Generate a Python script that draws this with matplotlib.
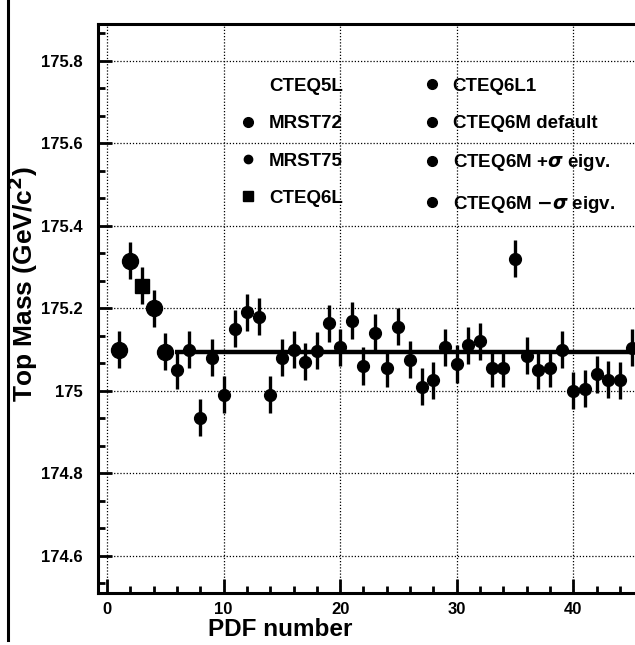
import matplotlib
matplotlib.use("Agg")
import matplotlib.pyplot as plt
from matplotlib.lines import Line2D
from matplotlib.ticker import MultipleLocator, AutoMinorLocator

plt.rcParams['font.family'] = ['Liberation Sans', 'DejaVu Sans']
plt.rcParams['font.weight'] = 'bold'

# PDF sets 1..45 and fitted top mass (GeV/c^2)
pdf_number = list(range(1, 46))
top_mass = [175.10, 175.315, 175.255, 175.20, 175.095, 175.05, 175.10, 174.935, 175.08, 174.99,
            175.15, 175.19, 175.18, 174.99, 175.08, 175.10, 175.07, 175.097, 175.164, 175.105,
            175.17, 175.06, 175.14, 175.055, 175.155, 175.075, 175.01, 175.025, 175.105, 175.065,
            175.11, 175.12, 175.055, 175.055, 175.32, 175.085, 175.05, 175.055, 175.10, 175.00,
            175.005, 175.04, 175.027, 175.025, 175.104]
mass_err = [0.045] * 45

big_points = [1, 2, 4, 5]      # CTEQ5L, MRST72, MRST75, CTEQ6M default
square_points = [3]            # CTEQ6L
default_idx = 4                # CTEQ6M default value -> reference line

legend_labels = ['CTEQ5L', 'MRST72', 'MRST75', 'CTEQ6L',
                 'CTEQ6L1', 'CTEQ6M default', r'CTEQ6M +$\sigma$ eigv.', r'CTEQ6M $-\sigma$ eigv.']

fig = plt.figure(figsize=(6.35, 6.45), dpi=100)
ax = fig.add_axes([0.154, 0.081, 0.846, 0.882])

# page edge line from the scan
fig.add_artist(Line2D([0.012, 0.012], [0.008, 1.0], color='black', lw=2.2))

for n, m, e in zip(pdf_number, top_mass, mass_err):
    if n in square_points:
        mk, ms = 's', 10.5
    elif n in big_points:
        mk, ms = 'o', 11.5
    else:
        mk, ms = 'o', 8.5
    ax.errorbar(n, m, yerr=e, fmt=mk, color='black', ms=ms, elinewidth=2.4, capsize=0, zorder=3)

ax.hlines(top_mass[default_idx], 5.8, 46, color='black', lw=3.2, zorder=2)

ax.set_xlim(-0.8, 45.3)
ax.set_ylim(174.51, 175.89)
ax.xaxis.set_major_locator(MultipleLocator(10))
ax.xaxis.set_minor_locator(MultipleLocator(2))
ax.yaxis.set_major_locator(MultipleLocator(0.2))
ax.yaxis.set_minor_locator(AutoMinorLocator(3))
ax.yaxis.set_major_formatter(plt.FuncFormatter(lambda v, p: '%g' % round(v, 1)))

ax.tick_params(which='both', direction='in', top=False, right=False, width=2)
ax.tick_params(which='major', length=10, labelsize=12)
ax.tick_params(axis='y', which='major', pad=11)
ax.tick_params(axis='x', which='major', pad=7)
ax.tick_params(which='minor', length=5)
for lab in ax.get_xticklabels() + ax.get_yticklabels():
    lab.set_fontweight('bold')

for s in ax.spines.values():
    s.set_linewidth(2.2)
ax.spines['right'].set_visible(False)

ax.grid(True, which='major', color='black', linestyle=(0, (1, 1.5)), linewidth=0.9)

ax.set_xlabel('PDF number', fontsize=17.5, fontweight='bold')
ax.xaxis.set_label_coords(0.339, -0.045)
ax.set_ylabel(r'Top Mass (GeV/c$^2$)', fontsize=19, fontweight='bold')
ax.yaxis.set_label_coords(-0.108, 0.543)

handles = [
    Line2D([], [], ls='none', marker='o', color='white', ms=7),
    Line2D([], [], ls='none', marker='o', color='black', ms=7),
    Line2D([], [], ls='none', marker='o', color='black', ms=6),
    Line2D([], [], ls='none', marker='s', color='black', ms=7),
    Line2D([], [], ls='none', marker='o', color='black', ms=7),
    Line2D([], [], ls='none', marker='o', color='black', ms=7),
    Line2D([], [], ls='none', marker='o', color='black', ms=7),
    Line2D([], [], ls='none', marker='o', color='black', ms=7),
]
ax.legend(handles, legend_labels, ncol=2, frameon=False, loc='upper left',
          bbox_to_anchor=(0.231, 0.935), prop={'size': 13.5, 'weight': 'bold'},
          handlelength=1.0, handletextpad=0.6, columnspacing=4.27, labelspacing=1.08)

fig.savefig('out.png', dpi=100)
